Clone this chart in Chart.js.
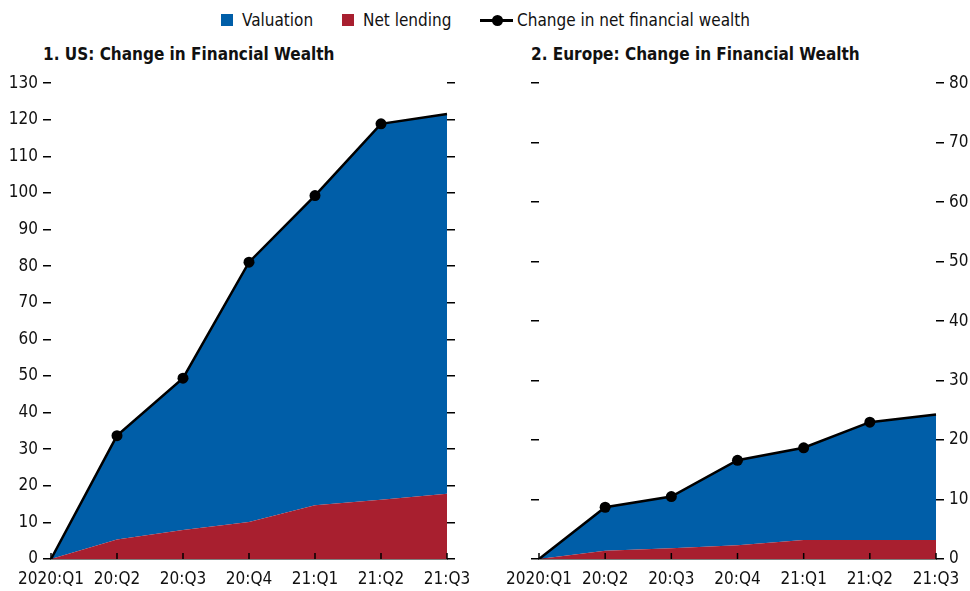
<!DOCTYPE html>
<html>
<head>
<meta charset="utf-8">
<script src="https://cdn.jsdelivr.net/npm/chart.js@4"></script>
<style>
  body { margin: 0; background: #fff; }
  #wrap { position: relative; width: 970px; height: 591px; font-family: 'Liberation Sans Narrow', 'Arial Narrow', 'DejaVu Sans Condensed', sans-serif; color: #111; }
  .leg { position: absolute; top: 9px; font-size: 17px; line-height: 22px; white-space: nowrap; }
  .sq { position: absolute; top: 14px; width: 12px; height: 12px; }
  .ln { position: absolute; top: 19px; left: 480px; width: 33px; height: 3px; background: #000; }
  .dot { position: absolute; top: 15px; left: 492px; width: 11px; height: 11px; border-radius: 50%; background: #000; }
  .title { position: absolute; top: 44px; font-weight: bold; font-size: 17px; white-space: nowrap; }
  canvas { position: absolute; top: 68px; }
</style>
</head>
<body>
<div id="wrap">
  <span class="sq" style="left:221px; background:#005ea8"></span>
  <span class="leg" style="left:242px">Valuation</span>
  <span class="sq" style="left:342px; background:#a81f2f"></span>
  <span class="leg" style="left:363px">Net lending</span>
  <span class="ln"></span><span class="dot"></span>
  <span class="leg" style="left:517px">Change in net financial wealth</span>
  <div class="title" style="left:43px">1. US: Change in Financial Wealth</div>
  <div class="title" style="left:531px">2. Europe: Change in Financial Wealth</div>
  <canvas id="us" width="485" height="523" style="left:0"></canvas>
  <canvas id="eu" width="485" height="523" style="left:485px"></canvas>
</div>
<script>
// quarters on the x axis
const quarters = ['2020:Q1', '20:Q2', '20:Q3', '20:Q4', '21:Q1', '21:Q2', '21:Q3'];

// US, cumulative change since 2020:Q1
const usValuation = [0, 28.4, 41.5, 71.0, 84.6, 102.7, 103.8];
const usNetLending = [0, 5.3, 7.9, 10.1, 14.7, 16.2, 17.8];
const usNetWealth = [0, 33.7, 49.4, 81.1, 99.3, 118.9, 121.6];

// Europe, cumulative change since 2020:Q1
const euValuation = [0, 7.3, 8.7, 14.3, 15.5, 19.8, 21.1];
const euNetLending = [0, 1.4, 1.8, 2.3, 3.2, 3.2, 3.2];
const euNetWealth = [0, 8.7, 10.5, 16.6, 18.7, 23.0, 24.3];

const BLUE = '#005ea8';
const RED = '#a81f2f';
const FONT = "'Liberation Sans Narrow', 'Arial Narrow', 'DejaVu Sans Condensed', sans-serif";

// small tick marks pointing up into the plot from the x axis
const innerTicks = {
    id: 'innerTicks',
    afterDatasetsDraw(chart) {
        const x = chart.scales.x;
        const ctx = chart.ctx;
        const bottom = chart.chartArea.bottom;
        ctx.save();
        ctx.strokeStyle = '#000';
        ctx.lineWidth = 1.5;
        x.ticks.forEach((t, i) => {
            const px = x.getPixelForTick(i);
            ctx.beginPath();
            ctx.moveTo(px, bottom);
            ctx.lineTo(px, bottom - 6);
            ctx.stroke();
        });
        ctx.restore();
    }
};

function dashAxis(position, max, width, showLabels) {
    return {
        position: position,
        min: 0,
        max: max,
        stacked: true,
        border: { display: false },
        grid: { drawOnChartArea: false, drawTicks: true, tickLength: 8, color: '#000', lineWidth: 1.5 },
        ticks: {
            display: showLabels,
            stepSize: 10,
            padding: 5,
            color: '#111',
            font: { family: FONT, size: 17 }
        },
        afterFit(scale) { scale.width = width; }
    };
}

function makeChart(id, valuation, netLending, netWealth, scales, axisId) {
    const markers = netWealth.map((v, i) => (i === 0 || i === netWealth.length - 1) ? 0 : 5.5);
    return new Chart(document.getElementById(id), {
        type: 'line',
        data: {
            labels: quarters,
            datasets: [
                {
                    label: 'Change in net financial wealth',
                    data: netWealth,
                    stack: 'total',
                    order: 0,
                    yAxisID: axisId,
                    borderColor: '#000',
                    borderWidth: 2.5,
                    pointRadius: markers,
                    pointBackgroundColor: '#000',
                    pointBorderWidth: 0,
                    fill: false,
                    tension: 0
                },
                {
                    label: 'Net lending',
                    data: netLending,
                    stack: 'area',
                    order: 1,
                    yAxisID: axisId,
                    borderWidth: 0,
                    pointRadius: 0,
                    backgroundColor: RED,
                    fill: 'origin',
                    tension: 0
                },
                {
                    label: 'Valuation',
                    data: valuation,
                    stack: 'area',
                    order: 2,
                    yAxisID: axisId,
                    borderWidth: 0,
                    pointRadius: 0,
                    backgroundColor: BLUE,
                    fill: '-1',
                    tension: 0
                }
            ]
        },
        options: {
            responsive: false,
            animation: false,
            layout: { padding: { top: 12, left: 0, right: 0, bottom: 0 } },
            plugins: { legend: { display: false }, tooltip: { enabled: false } },
            scales: Object.assign({
                x: {
                    offset: false,
                    border: { display: true, color: '#000', width: 1.5 },
                    grid: { display: false },
                    ticks: {
                        color: '#111',
                        maxRotation: 0,
                        autoSkip: false,
                        padding: 2,
                        font: { family: FONT, size: 17 }
                    },
                    afterFit(scale) { scale.height = 32; }
                }
            }, scales)
        },
        plugins: [innerTicks]
    });
}

makeChart('us', usValuation, usNetLending, usNetWealth, {
    y: dashAxis('left', 130, 51, true),
    y2: dashAxis('right', 130, 38, false)
}, 'y');

makeChart('eu', euValuation, euNetLending, euNetWealth, {
    yl: dashAxis('left', 80, 54, false),
    y: dashAxis('right', 80, 34, true)
}, 'y');
</script>
</body>
</html>
